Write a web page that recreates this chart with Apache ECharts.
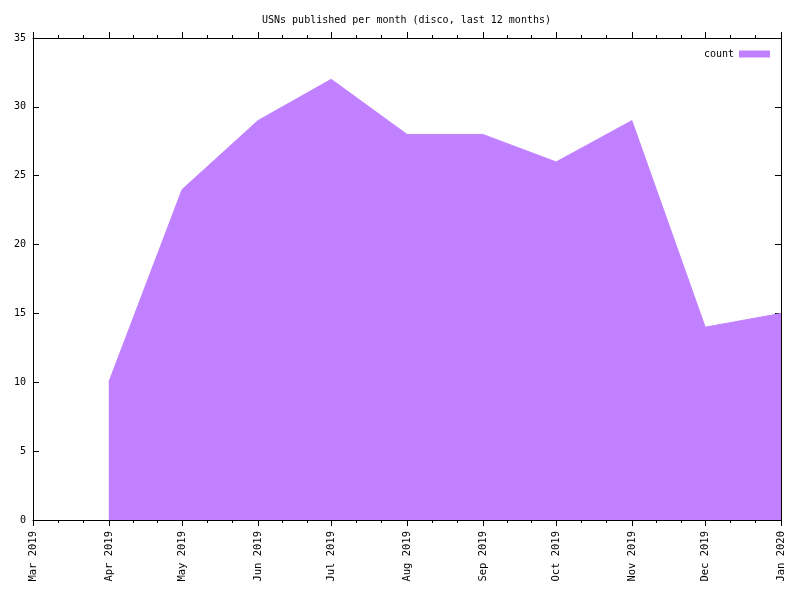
<!DOCTYPE html>
<html>
<head>
<meta charset="utf-8">
<script src="https://cdn.jsdelivr.net/npm/echarts@6/dist/echarts.min.js"></script>
<style>html,body{margin:0;padding:0;background:#fff}#c{width:800px;height:600px}</style>
</head>
<body>
<div id="c"></div>
<script>
var months = ['2019-04-01','2019-05-01','2019-06-01','2019-07-01','2019-08-01','2019-09-01','2019-10-01','2019-11-01','2019-12-01','2020-01-01'];
var counts = [10, 24, 29, 32, 28, 28, 26, 29, 14, 15];
var monthNames = ['Jan','Feb','Mar','Apr','May','Jun','Jul','Aug','Sep','Oct','Nov','Dec'];
var yTicks = [0, 5, 10, 15, 20, 25, 30, 35];
var xMin = new Date(2019, 2, 1).getTime(), xMax = new Date(2020, 0, 1).getTime();

var FONT = 'DejaVu Sans Mono';
var chart = echarts.init(document.getElementById('c'), null, {renderer: 'canvas'});
function fmt(v) {
  var d = new Date(v);
  return monthNames[d.getMonth()] + ' ' + d.getFullYear();
}
function xBase() {
  return {
    type: 'time',
    min: xMin, max: xMax,
    splitNumber: 10,
    minInterval: 28 * 86400000,
    axisLine: {show: true, onZero: false, lineStyle: {color: '#000', width: 1}},
    axisTick: {show: true, inside: false, length: 6, lineStyle: {color: '#000'}},
    minorTick: {show: true, splitNumber: 3, length: 3, lineStyle: {color: '#000'}},
    splitLine: {show: false},
    minorSplitLine: {show: false}
  };
}
function yBase() {
  return {
    type: 'value', min: 0, max: 35, interval: 5,
    axisLine: {show: true, onZero: false, lineStyle: {color: '#000', width: 1}},
    axisTick: {show: true, inside: true, length: 6, lineStyle: {color: '#000'}},
    splitLine: {show: false}
  };
}
chart.setOption({
  animation: false,
  backgroundColor: '#fff',
  title: {
    text: 'USNs published per month (disco, last 12 months)',
    left: 257, top: 10,
    textStyle: {fontFamily: FONT, fontSize: 10, fontWeight: 'normal', color: '#000'}
  },
  legend: {
    right: 25, top: 44,
    align: 'right',
    itemWidth: 31, itemHeight: 7, itemGap: 8,
    icon: 'rect',
    textStyle: {fontFamily: FONT, fontSize: 10, color: '#000'},
    data: [{name: 'count', icon: 'rect', itemStyle: {color: '#c080ff'}}]
  },
  grid: {left: 33, right: 19, top: 38, bottom: 80, containLabel: false},
  xAxis: [
    Object.assign(xBase(), {
      position: 'bottom',
      axisLabel: {rotate: 90, formatter: fmt, fontFamily: FONT, fontSize: 10.5, color: '#000', margin: 11, showMinLabel: true, showMaxLabel: true}
    }),
    Object.assign(xBase(), {position: 'top', axisLabel: {show: false}})
  ],
  yAxis: [
    Object.assign(yBase(), {
      position: 'left',
      axisLabel: {fontFamily: FONT, fontSize: 10, color: '#000', margin: 7,
        formatter: function (v) { return yTicks.indexOf(v) >= 0 ? String(v) : ''; }}
    }),
    Object.assign(yBase(), {position: 'right', axisLabel: {show: false}})
  ],
  series: [{
    name: 'count',
    type: 'line',
    xAxisIndex: 0, yAxisIndex: 0,
    data: months.map(function (m, i) { return [m, counts[i]]; }),
    showSymbol: false,
    symbol: 'none',
    lineStyle: {color: '#c080ff', width: 1},
    itemStyle: {color: '#c080ff'},
    areaStyle: {color: '#c080ff', opacity: 1}
  }]
});
</script>
</body>
</html>
